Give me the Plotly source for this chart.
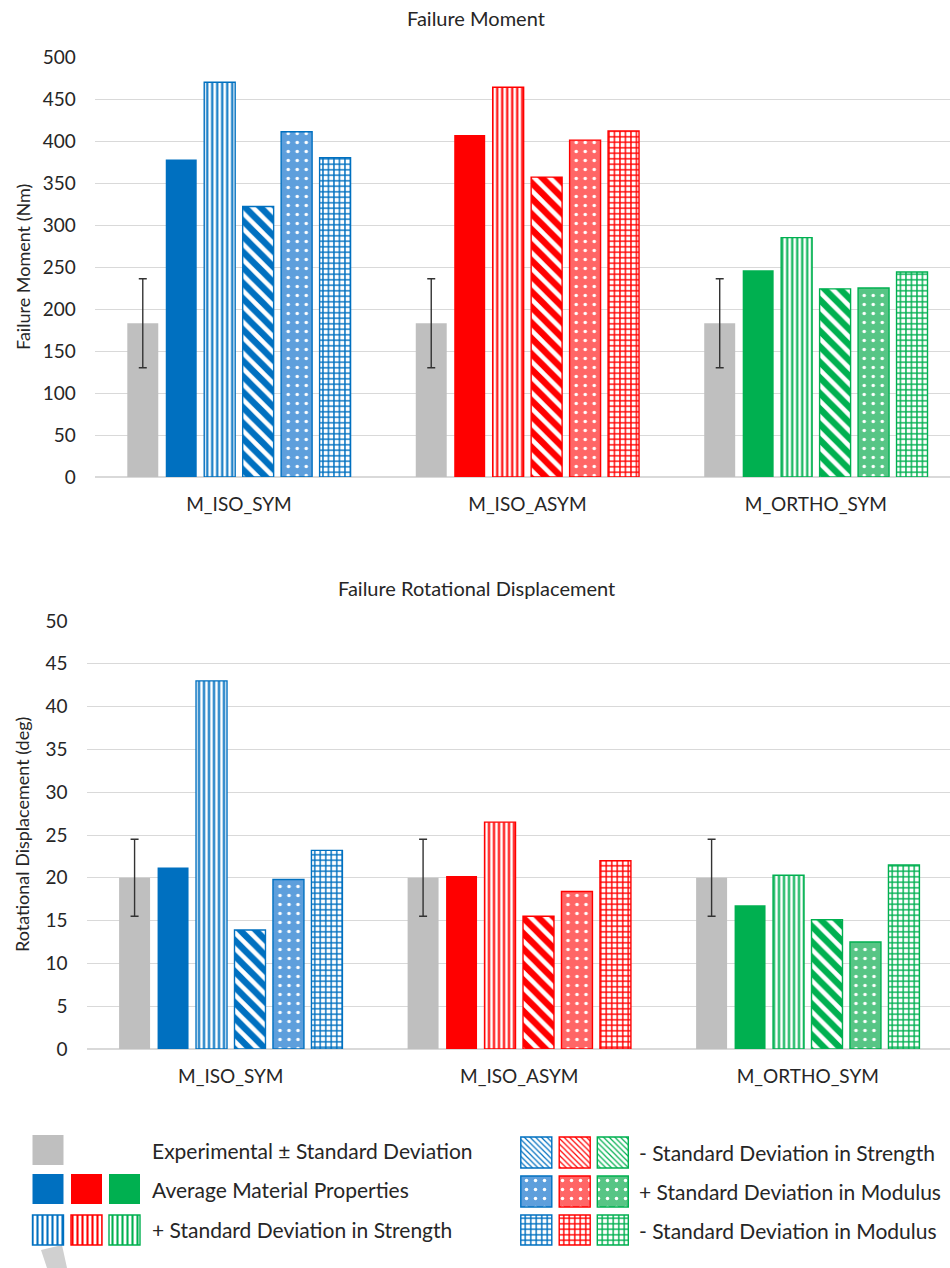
import plotly.graph_objects as go

# ---- data -------------------------------------------------------------
categories = ["M_ISO_SYM", "M_ISO_ASYM", "M_ORTHO_SYM"]

moment_exp = [183, 183, 183]
moment_exp_sd = [53, 53, 53]
moment_avg = [378, 407, 246]
moment_plus_strength = [470, 464, 285]
moment_minus_strength = [322, 357, 224]
moment_plus_modulus = [411, 401, 225]
moment_minus_modulus = [380, 412, 244]

rot_exp = [20.0, 20.0, 20.0]
rot_exp_sd = [4.5, 4.5, 4.5]
rot_avg = [21.2, 20.2, 16.8]
rot_plus_strength = [43.0, 26.5, 20.3]
rot_minus_strength = [13.9, 15.5, 15.1]
rot_plus_modulus = [19.8, 18.4, 12.5]
rot_minus_modulus = [23.2, 22.0, 21.5]

series_labels = [
    "Experimental ± Standard Deviation",
    "Average Material Properties",
    "+ Standard Deviation in Strength",
    "- Standard Deviation in Strength",
    "+ Standard Deviation in Modulus",
    "- Standard Deviation in Modulus",
]

# ---- styling ----------------------------------------------------------
GRAY = "#BFBFBF"
COLORS = ["#0070C0", "#FF0000", "#00B050"]
LIGHT = ["#5E9FDC", "#FF6666", "#57C585"]
FONT = "Lato, 'Open Sans', sans-serif"
TEXT = "#262626"
GRID = "#D9D9D9"

W, H = 950, 1268


def pattern_style(kind, small=False):
    """Marker dict for each series kind."""
    if kind == "exp":
        return dict(color=GRAY, line=dict(width=0))
    if kind == "avg":
        return dict(color=COLORS, line=dict(width=0))
    line = dict(color=COLORS, width=1.4)
    if kind == "plus_strength":
        pat = dict(shape="|", fgcolor=COLORS, bgcolor="white",
                   size=5, solidity=0.42)
    elif kind == "minus_strength":
        pat = dict(shape="\\", fgcolor=COLORS, bgcolor="white",
                   size=4 if small else 11, solidity=0.3 if small else 0.58)
    elif kind == "plus_modulus":
        pat = dict(shape=".", fgcolor="white", bgcolor=LIGHT,
                   size=9, solidity=0.12)
    else:
        pat = dict(shape="+", fgcolor=COLORS, bgcolor="white",
                   size=5.5, solidity=0.45)
    pat["fgopacity"] = 1
    return dict(color="white", pattern=pat, line=line)


kinds = ["exp", "avg", "plus_strength", "minus_strength",
         "plus_modulus", "minus_modulus"]

moment_series = [moment_exp, moment_avg, moment_plus_strength,
                 moment_minus_strength, moment_plus_modulus,
                 moment_minus_modulus]
rot_series = [rot_exp, rot_avg, rot_plus_strength, rot_minus_strength,
              rot_plus_modulus, rot_minus_modulus]

fig = go.Figure()

for values, sd, xa, ya in [(moment_series, moment_exp_sd, "x", "y"),
                           (rot_series, rot_exp_sd, "x2", "y2")]:
    for name, kind, vals in zip(series_labels, kinds, values):
        err = None
        if kind == "exp":
            err = dict(type="data", array=sd, visible=True,
                       color="#333333", thickness=1.4, width=4)
        fig.add_trace(go.Bar(
            x=categories, y=vals, name=name, marker=pattern_style(kind),
            error_y=err, xaxis=xa, yaxis=ya, showlegend=False,
        ))

# ---- legend built from swatch bars on a pixel-scaled axis ------------
# axis x3: 0..950 px ; axis y3: screen y minus 1122, top at 0
LEG_TOP = 1122
SW = 31
left_cols = [48, 86.5, 124.5]
right_cols = [536.3, 574.7, 612.8]
legend_rows = [
    # (kind, column centres, top px, bottom px, text x, text y)
    ("exp", left_cols[:1], 1135, 1165, 150, 1150),
    ("avg", left_cols, 1174, 1204, 150, 1189),
    ("plus_strength", left_cols, 1215, 1245, 150, 1229),
    ("minus_strength", right_cols, 1137, 1168, 637, 1152),
    ("plus_modulus", right_cols, 1176, 1207, 637, 1191),
    ("minus_modulus", right_cols, 1215, 1245, 637, 1230),
]
annotations = []
for kind, cols, top, bot, tx, ty in legend_rows:
    m = pattern_style(kind, small=True)
    fig.add_trace(go.Bar(
        x=cols, y=[bot - top] * len(cols), base=[top - LEG_TOP] * len(cols),
        width=SW, offset=-SW / 2, marker=m, xaxis="x3", yaxis="y3",
        showlegend=False, hoverinfo="skip",
    ))
    annotations.append(dict(
        x=tx / W, y=1 - ty / H, xref="paper", yref="paper",
        text=series_labels[kinds.index(kind)], showarrow=False,
        xanchor="left", yanchor="middle",
        font=dict(family=FONT, size=21, color=TEXT),
    ))

# chart titles and axis titles
for text, y in [("Failure Moment", 18), ("Failure Rotational Displacement", 588)]:
    annotations.append(dict(
        x=476 / W, y=1 - y / H, xref="paper", yref="paper", text=text,
        showarrow=False, xanchor="center", yanchor="middle",
        font=dict(family=FONT, size=20, color=TEXT),
    ))
for text, x, y in [("Failure Moment (Nm)", 23, 267),
                   ("Rotational Displacement (deg)", 22, 835)]:
    annotations.append(dict(
        x=x / W, y=1 - y / H, xref="paper", yref="paper", text=text,
        showarrow=False, textangle=-90, xanchor="center", yanchor="middle",
        font=dict(family=FONT, size=18, color=TEXT),
    ))

tick_font = dict(family=FONT, size=19, color=TEXT)

fig.update_layout(
    width=W, height=H, autosize=False,
    margin=dict(l=0, r=0, t=0, b=0),
    paper_bgcolor="white", plot_bgcolor="white",
    barmode="group", bargap=0.2, bargroupgap=0.195,
    annotations=annotations,
    shapes=[dict(type="path", xref="x3", yref="y3",
                 path="M 41 128 L 62 123 L 67 146 L 47 146 Z",
                 fillcolor="#D0D0D0", line=dict(width=0), layer="below")],
    xaxis=dict(domain=[94.7 / W, 1], range=[-0.5, 2.465], anchor="y",
               showgrid=False, showline=False, ticks="", tickfont=tick_font,
               ticklabelstandoff=14, automargin=False),
    yaxis=dict(domain=[1 - 477 / H, 1 - 57 / H], range=[0, 500], dtick=50,
               anchor="x", showgrid=True, gridcolor=GRID, gridwidth=1,
               zeroline=True, zerolinecolor=GRID, zerolinewidth=1.5,
               ticks="", tickfont=tick_font, ticklabelstandoff=18,
               automargin=False),
    xaxis2=dict(domain=[86.5 / W, 1], range=[-0.5, 2.493], anchor="y2",
                showgrid=False, showline=False, ticks="", tickfont=tick_font,
                ticklabelstandoff=14, automargin=False),
    yaxis2=dict(domain=[1 - 1049 / H, 1 - 621 / H], range=[0, 50], dtick=5,
                anchor="x2", showgrid=True, gridcolor=GRID, gridwidth=1,
                zeroline=True, zerolinecolor=GRID, zerolinewidth=1.5,
                ticks="", tickfont=tick_font, ticklabelstandoff=18,
                automargin=False),
    xaxis3=dict(domain=[0, 1], range=[0, W], anchor="y3", visible=False,
                fixedrange=True),
    yaxis3=dict(domain=[0, (H - LEG_TOP) / H], range=[H - LEG_TOP, 0],
                anchor="x3", visible=False, fixedrange=True),
)

fig.write_html("out.html")
